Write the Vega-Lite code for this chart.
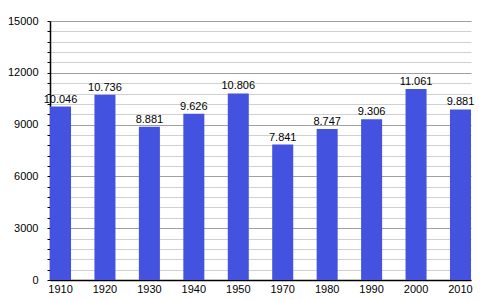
{
  "$schema": "https://vega.github.io/schema/vega-lite/v6.json",
  "width": 421,
  "height": 259,
  "autosize": {"type": "none"},
  "padding": {"left": 50, "top": 21, "right": 29, "bottom": 20},
  "background": "white",
  "config": {
    "view": {"stroke": null},
    "font": "Liberation Sans"
  },
  "data": {
    "values": [
      {"year": "1910", "pop": 10046, "label": "10.046"},
      {"year": "1920", "pop": 10736, "label": "10.736"},
      {"year": "1930", "pop": 8881, "label": "8.881"},
      {"year": "1940", "pop": 9626, "label": "9.626"},
      {"year": "1950", "pop": 10806, "label": "10.806"},
      {"year": "1970", "pop": 7841, "label": "7.841"},
      {"year": "1980", "pop": 8747, "label": "8.747"},
      {"year": "1990", "pop": 9306, "label": "9.306"},
      {"year": "2000", "pop": 11061, "label": "11.061"},
      {"year": "2010", "pop": 9881, "label": "9.881"}
    ]
  },
  "encoding": {
    "x": {
      "field": "year",
      "type": "nominal",
      "sort": null,
      "scale": {"paddingInner": 0.527, "paddingOuter": 0},
      "axis": {
        "title": null,
        "labelAngle": 0,
        "labelFontSize": 11,
        "labelColor": "#000",
        "domainColor": "#000",
        "domainWidth": 1.5,
        "ticks": false,
        "labelPadding": 3
      }
    },
    "y": {
      "field": "pop",
      "type": "quantitative",
      "scale": {"domain": [0, 15000], "nice": false},
      "axis": {
        "title": null,
        "values": [0, 600, 1200, 1800, 2400, 3000, 3600, 4200, 4800, 5400, 6000, 6600, 7200, 7800, 8400, 9000, 9600, 10200, 10800, 11400, 12000, 12600, 13200, 13800, 14400, 15000],
        "labelExpr": "datum.value % 3000 == 0 ? datum.value : ''",
        "labelFontSize": 11,
        "labelColor": "#000",
        "labelPadding": 9,
        "domainColor": "#000",
        "domainWidth": 1.5,
        "tickColor": "#000",
        "tickSize": 3,
        "grid": true,
        "gridColor": {"condition": {"test": "datum.value % 3000 == 0", "value": "#a0a0a0"}, "value": "#d0d0d0"},
        "gridWidth": 1
      }
    }
  },
  "layer": [
    {"mark": {"type": "bar", "color": "#4353E0"}},
    {
      "mark": {"type": "text", "baseline": "bottom", "dy": -2, "fontSize": 11, "color": "#000"},
      "encoding": {"text": {"field": "label"}}
    }
  ]
}
